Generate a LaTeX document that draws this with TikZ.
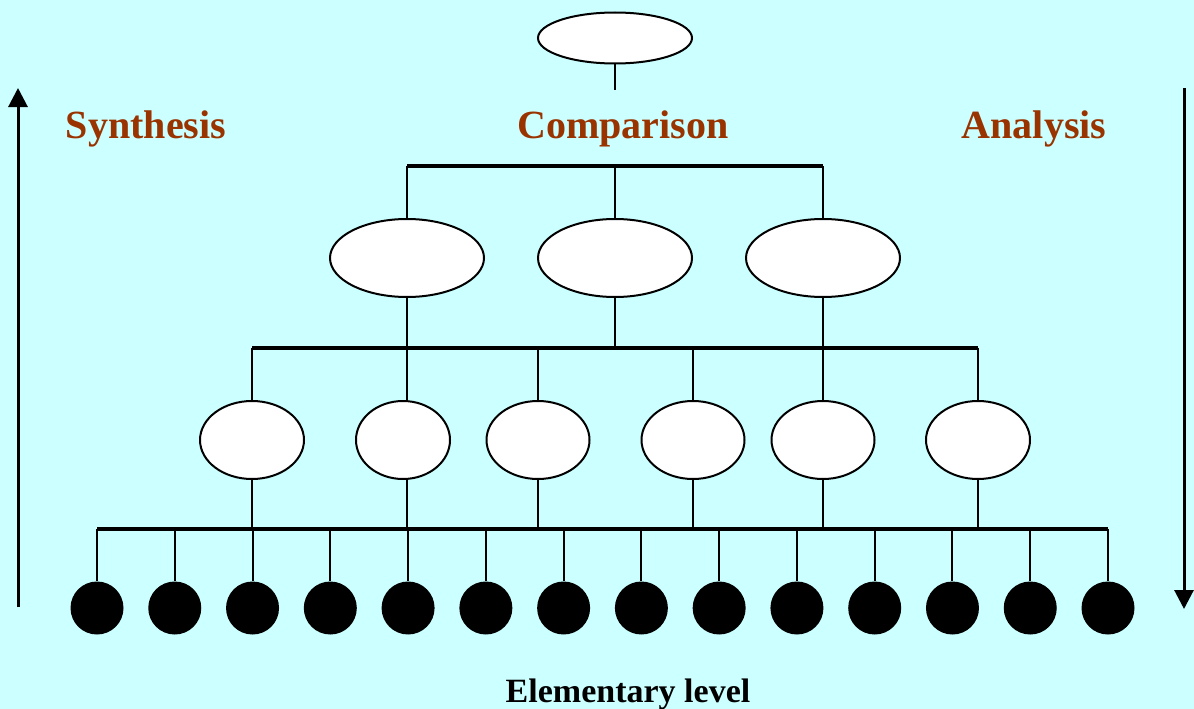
\documentclass[tikz,border=0pt]{standalone}
\usepackage{fontspec}
\setmainfont{Liberation Serif}
\usetikzlibrary{arrows.meta,shapes.geometric}
\definecolor{bg}{HTML}{CCFFFF}
\definecolor{lbl}{HTML}{993300}
\begin{document}
\begin{tikzpicture}[x=1pt,y=-1pt,
  oval/.style={ellipse,draw=black,fill=white,line width=2pt,inner sep=0pt},
  dot/.style={circle,fill=black,inner sep=0pt,minimum size=53pt},
  bar/.style={line width=4pt},
  thin/.style={line width=2pt},
  heading/.style={text=lbl,font=\bfseries\fontsize{40}{48}\selectfont},
  bigarrow/.style={line width=3pt,-{Triangle[length=19pt,width=19pt]}}]
\fill[bg] (0,0) rectangle (1194,709);
\useasboundingbox (0,0) rectangle (1194,709);
% top
\node[oval,minimum width=154pt,minimum height=51pt] (top) at (615,38) {};
\coordinate (topend) at (615,90);
\draw[thin] (top.south) -- (topend);
% labels
\node[heading] (syn) at (146,129) {Synthesis};
\node[heading] (cmp) at (623,129) {Comparison};
\node[heading] (ana) at (1034,129) {Analysis};
% bar 1
\coordinate (b1l) at (407,166);
\coordinate (b1r) at (823,166);
\draw[bar] (b1l) -- (b1r);
\foreach \i/\x in {1/407,2/615,3/823}{
  \node[oval,minimum width=154pt,minimum height=78pt] (m\i) at (\x,258) {};
  \coordinate (m\i t) at (\x,166);
  \coordinate (m\i b) at (\x,348);
  \draw[thin] (m\i t) -- (m\i.north);
  \draw[thin] (m\i.south) -- (m\i b);
}
% bar 2
\coordinate (b2l) at (252,348);
\coordinate (b2r) at (978,348);
\draw[bar] (b2l) -- (b2r);
\foreach \i/\x/\c/\w in {1/252/252/104,2/407/403/94,3/538/538/103,4/693/693/103,5/823/823/103,6/978/978/104}{
  \node[oval,minimum width=\w pt,minimum height=78pt] (s\i) at (\c,440) {};
  \coordinate (s\i t) at (\x,348);
  \coordinate (s\i b) at (\x,529);
  \draw[thin] (s\i t) -- (\x,401);
  \draw[thin] (\x,479) -- (s\i b);
}
% bar 3
\coordinate (b3l) at (97,529);
\coordinate (b3r) at (1108,529);
\draw[bar] (b3l) -- (b3r);
\foreach \i in {0,...,13}{
  \pgfmathsetmacro{\xx}{97+\i*77.77}
  \node[dot] (d\i) at (\xx,608) {};
  \coordinate (d\i t) at (\xx,529);
  \draw[thin] (d\i t) -- (d\i.north);
}
% arrows
\coordinate (la) at (18,607);
\coordinate (lb) at (18,88);
\draw[bigarrow] (la) -- (lb);
\coordinate (ra) at (1184,88);
\coordinate (rb) at (1184,609);
\draw[bigarrow] (ra) -- (rb);
% bottom label
\node[font=\bfseries\fontsize{34}{40}\selectfont] (elem) at (628,694) {Elementary level};
\end{tikzpicture}
\end{document}
